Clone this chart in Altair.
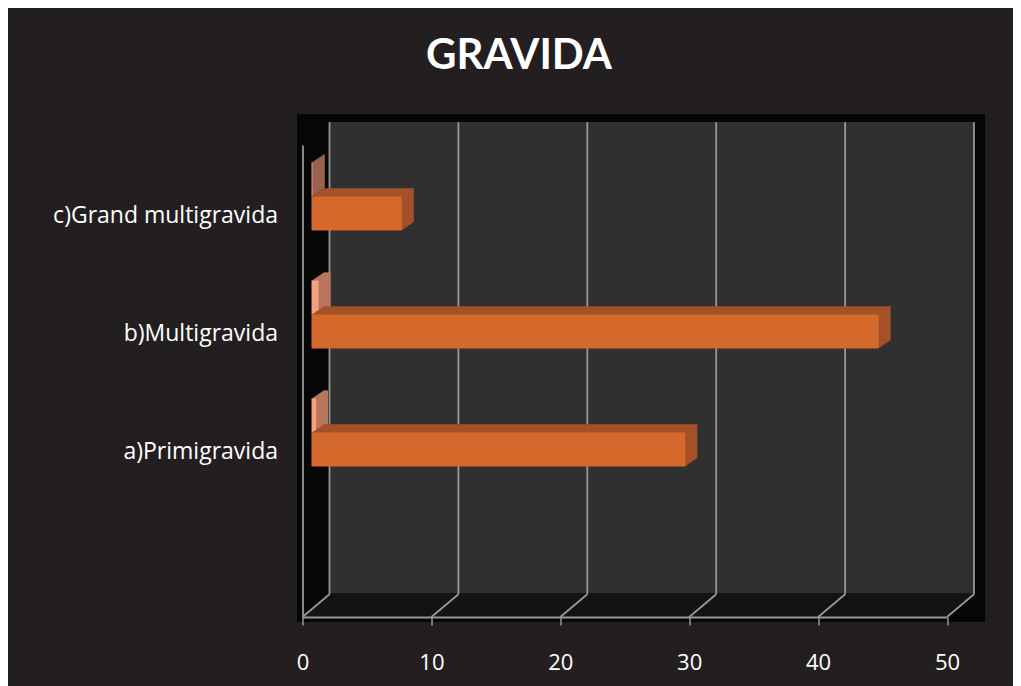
import altair as alt
import pandas as pd

# ---- data ----
categories = ["a)Primigravida", "b)Multigravida", "c)Grand multigravida"]
counts = [29, 44, 7]          # orange series
shares = [0.36, 0.55, 0.09]   # small pink series
x_ticks = [0, 10, 20, 30, 40, 50]
y_order = ["c)Grand multigravida", "b)Multigravida", "a)Primigravida", " "]
title_text = ["GRAVIDA"]

df = pd.DataFrame({"category": categories, "count": counts, "share": shares})
ticks_df = pd.DataFrame({"t": x_ticks})
title_df = pd.DataFrame({"title": title_text})

# ---- layout (pixels) ----
W, H = 644.5, 472
DX, DY = 27, 22.7          # depth of the 3D walls
BAR_H = 34
BAR_DX = 9                 # bars sit slightly behind the front plane
EXT = 12                   # bar extrusion steps

BG = "#231f20"
BOX = "#060606"
WALL = "#303030"
FLOOR = "#151515"
GRID = "#979797"
ORANGE = "#d4692b"
ORANGE_SIDE = "#a4522a"
PINK = "#f2a07e"
PINK_SIDE = "#b8765c"
FONT = "Open Sans"

xscale = alt.Scale(domain=[0, 50], nice=False, zero=True)
yscale = alt.Scale(domain=y_order, paddingInner=0, paddingOuter=0)

xaxis = alt.Axis(values=x_ticks, title=None, grid=False, format="d",
                 domainColor=GRID, domainWidth=1.8,
                 tickColor=GRID, tickWidth=1.5, tickSize=8,
                 labelFont=FONT, labelFontSize=22, labelColor="white",
                 labelBaseline="alphabetic", labelPadding=44,
                 labelFlush=False, labelOverlap=False, zindex=1)
yaxis = alt.Axis(title=None, ticks=False, tickSize=0,
                 domainColor=GRID, domainWidth=1.8,
                 labelFont=FONT, labelFontSize=23, labelColor="white",
                 labelBaseline="alphabetic", labelOffset=18.7, labelPadding=25,
                 labelLimit=400, zindex=1)

def X(field):
    return alt.X(f"{field}:Q", scale=xscale, axis=xaxis)

Y = alt.Y("category:N", scale=yscale, axis=yaxis, sort=y_order)

layers = []

# black plot box
layers.append(alt.Chart(ticks_df).mark_rect(color=BOX).encode(
    x=alt.value(-5.5), x2=alt.value(682.5), y=alt.value(-31), y2=alt.value(476.7)))

# back wall
layers.append(alt.Chart(ticks_df).mark_rect(color=WALL, xOffset=DX, x2Offset=DX).encode(
    x=alt.datum(0), x2=alt.datum(50), y=alt.value(-DY), y2=alt.value(H - DY)))

# floor (sheared, built from stacked rules)
for k in range(0, 24):
    layers.append(alt.Chart(ticks_df).mark_rule(
        color=FLOOR, strokeWidth=1.6,
        xOffset=k * DX / DY, x2Offset=k * DX / DY, yOffset=-k).encode(
        x=alt.datum(0), x2=alt.datum(50), y=alt.value(H)))

# back wall gridlines
layers.append(alt.Chart(ticks_df).mark_rule(color=GRID, strokeWidth=1.8, xOffset=DX, x2Offset=DX).encode(
    x=alt.X("t:Q", scale=xscale, axis=xaxis), y=alt.value(-DY), y2=alt.value(H - DY)))

# floor diagonals
layers.append(alt.Chart(ticks_df).mark_rule(color=GRID, strokeWidth=1.8, x2Offset=DX).encode(
    x=alt.X("t:Q", scale=xscale, axis=xaxis), x2="t:Q", y=alt.value(H), y2=alt.value(H - DY)))

def bars(field, front, side, yoff):
    out = []
    for k in range(EXT, 0, -1):
        out.append(alt.Chart(df).mark_bar(
            height=BAR_H, color=side,
            xOffset=BAR_DX + k, x2Offset=BAR_DX + k, yOffset=yoff - k * 0.68,
            y2Offset=yoff - k * 0.68).encode(x=X(field), y=Y))
    out.append(alt.Chart(df).mark_bar(
        height=BAR_H, color=front,
        xOffset=BAR_DX, x2Offset=BAR_DX, yOffset=yoff, y2Offset=yoff).encode(x=X(field), y=Y))
    return out

layers += bars("share", PINK, PINK_SIDE, -24.5)
layers += bars("count", ORANGE, ORANGE_SIDE, 9.5)

# chart title
layers.append(alt.Chart(title_df).mark_text(
    font="Lato", fontSize=42, fontWeight="bold", color="white",
    align="center", baseline="alphabetic").encode(
    text="title:N", x=alt.value(216.5), y=alt.value(-76)))

chart = alt.layer(*layers).properties(
    width=W, height=H,
    background=BG,
    padding={"left": 294.5, "top": 137, "right": 66, "bottom": 69},
    autosize=alt.AutoSizeParams(type="none"),
).configure_view(stroke=None)

chart.save("out.html", embed_options={"renderer": "svg", "actions": False})
